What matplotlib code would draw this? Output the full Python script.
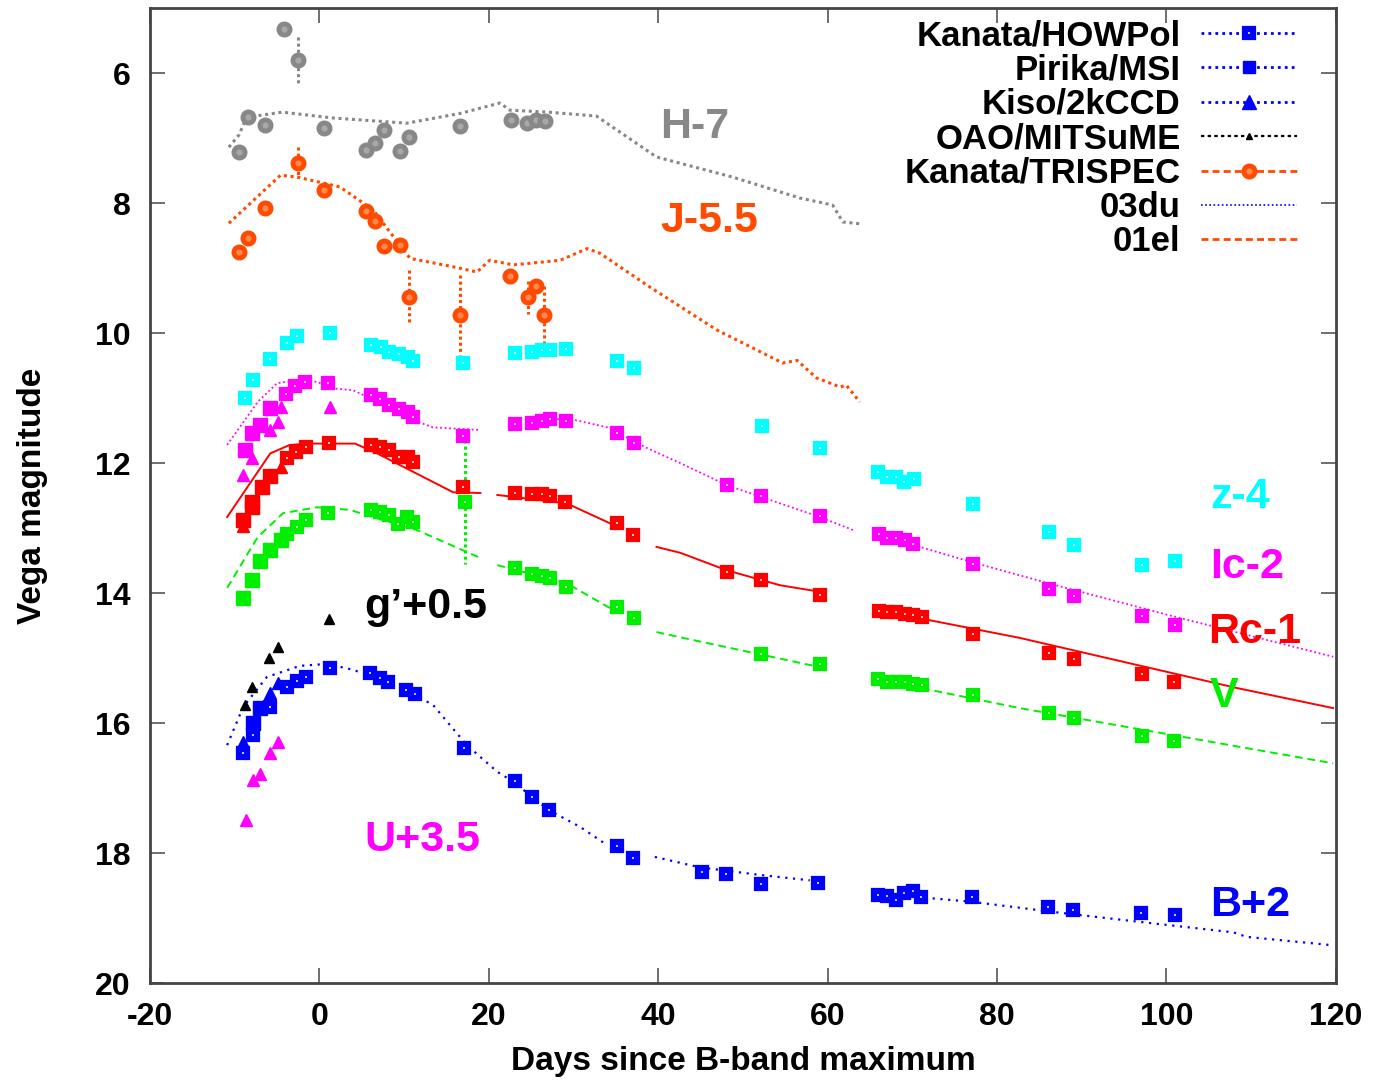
import numpy as np
import matplotlib.pyplot as plt
from matplotlib.lines import Line2D

plt.rcParams['font.family'] = ['Liberation Sans', 'DejaVu Sans']
plt.rcParams['font.weight'] = 'bold'
plt.rcParams['axes.unicode_minus'] = False

# colours per band
c_h = '#888888'
c_j = '#FF4A00'
c_z = '#00FFFF'
c_i = '#FF00FF'
c_r = '#FF0000'
c_v = '#00EE00'
c_b = '#0000FF'
c_g = '#000000'
nan = np.nan

# ---- Kanata/TRISPEC (H-7, J-5.5) ----
h_day = [-9.5, -8.4, -6.4, -4.2, -2.5, 0.5, 5.5, 6.6, 7.6, 9.5, 10.6, 16.6, 22.6, 24.5, 25.6, 26.6]
h_mag = [7.22, 6.68, 6.80, 5.32, 5.80, 6.85, 7.18, 7.08, 6.88, 7.20, 6.98, 6.82, 6.72, 6.77, 6.72, 6.74]
h_err = [0.05, 0.05, 0.03, 0.03, 0.35, 0.03, 0.03, 0.05, 0.03, 0.05, 0.08, 0.03, 0.05, 0.03, 0.03, 0.03]

j_day = [-9.5, -8.4, -6.4, -2.5, 0.5, 5.5, 6.6, 7.6, 9.5, 10.6, 16.6, 22.5, 24.6, 25.6, 26.5]
j_mag = [8.75, 8.54, 8.08, 7.38, 7.80, 8.12, 8.28, 8.66, 8.65, 9.45, 9.72, 9.12, 9.45, 9.28, 9.72]
j_err = [0.03, 0.03, 0.10, 0.24, 0.03, 0.03, 0.03, 0.03, 0.03, 0.42, 0.62, 0.03, 0.25, 0.05, 0.45]

# ---- Kanata/HOWPol ----
z_how_day = [-8.8, -7.8, -5.8, -3.8, -2.6, 1.2, 6.1, 7.3, 8.2, 9.4, 10.5, 11.1, 16.9, 23.1, 25.1, 26.3,
             27.2, 29.1, 35.1, 37.1, 52.2, 59.1, 66.0, 67.0, 68.1, 69.0, 70.2, 77.2, 86.1, 89.1, 97.1, 101.0]
z_how_mag = [11.00, 10.72, 10.40, 10.15, 10.05, 10.00, 10.18, 10.22, 10.29, 10.32, 10.37, 10.43, 10.46,
             10.31, 10.29, 10.26, 10.26, 10.25, 10.43, 10.54, 11.43, 11.77, 12.14, 12.22, 12.22, 12.29,
             12.25, 12.63, 13.06, 13.26, 13.57, 13.51]

i_how_day = [-3.9, -2.9, -1.7, 1.0, 6.1, 7.2, 8.2, 9.4, 10.4, 11.1, 16.9, 23.1, 25.1, 26.3, 27.2, 29.1,
             35.1, 37.1, 48.1, 52.1, 59.1, 66.1, 67.0, 68.1, 69.1, 70.1, 77.2, 86.1, 89.1, 97.1, 101.0]
i_how_mag = [10.94, 10.82, 10.75, 10.77, 10.95, 11.02, 11.10, 11.17, 11.22, 11.29, 11.58, 11.40, 11.38,
             11.35, 11.32, 11.35, 11.54, 11.69, 12.34, 12.51, 12.82, 13.09, 13.15, 13.15, 13.18, 13.25,
             13.55, 13.94, 14.05, 14.35, 14.49]

r_how_day = [-3.8, -2.8, -1.6, 1.1, 6.1, 7.2, 8.2, 9.4, 10.5, 11.1, 17.0, 23.1, 25.1, 26.3, 27.2, 29.0,
             35.1, 37.0, 48.1, 52.1, 59.1, 66.1, 67.0, 68.1, 69.1, 70.1, 71.1, 77.2, 86.1, 89.1, 97.1, 100.9]
r_how_mag = [11.92, 11.83, 11.75, 11.69, 11.72, 11.75, 11.80, 11.90, 11.90, 11.98, 12.37, 12.46, 12.47,
             12.47, 12.51, 12.60, 12.92, 13.11, 13.68, 13.80, 14.03, 14.28, 14.29, 14.29, 14.32, 14.34,
             14.37, 14.63, 14.92, 15.02, 15.25, 15.37]

v_how_day = [-3.8, -2.6, -1.6, 1.0, 6.1, 7.2, 8.2, 9.3, 10.3, 11.1, 17.2, 23.1, 25.1, 26.3, 27.2, 29.1,
             35.1, 37.1, 52.1, 59.1, 65.9, 67.0, 68.1, 69.1, 70.1, 71.1, 77.2, 86.1, 89.1, 97.1, 100.9]
v_how_mag = [13.09, 12.98, 12.88, 12.77, 12.72, 12.75, 12.80, 12.94, 12.83, 12.90, 12.60, 13.62, 13.71,
             13.74, 13.77, 13.91, 14.22, 14.38, 14.94, 15.09, 15.32, 15.37, 15.37, 15.37, 15.40, 15.42,
             15.57, 15.85, 15.92, 16.20, 16.28]
v_how_err = [0.96 if d == 17.2 else 0.0 for d in v_how_day]

b_how_day = [-9.0, -7.8, -5.8, -3.8, -2.6, -1.6, 1.2, 6.0, 7.2, 8.1, 10.2, 11.3, 17.1, 23.1, 25.1, 27.1,
             35.1, 37.0, 45.2, 48.0, 52.1, 58.9, 65.9, 67.0, 68.1, 69.0, 70.1, 71.0, 77.0, 86.0, 89.0, 97.0, 101.0]
b_how_mag = [16.46, 16.18, 15.75, 15.45, 15.35, 15.29, 15.15, 15.23, 15.31, 15.37, 15.49, 15.55, 16.38,
             16.89, 17.14, 17.34, 17.89, 18.08, 18.29, 18.32, 18.48, 18.46, 18.65, 18.66, 18.72, 18.62,
             18.58, 18.68, 18.68, 18.83, 18.88, 18.92, 18.95]
b_how_err = [0.08 if d in (45.2, 48.0) else 0.0 for d in b_how_day]

# ---- Pirika/MSI ----
i_pir_day = [-8.8, -8.0, -7.0, -5.8]
i_pir_mag = [11.80, 11.54, 11.42, 11.15]
r_pir_day = [-9.0, -8.0, -8.0, -6.8, -5.8]
r_pir_mag = [12.88, 12.60, 12.68, 12.37, 12.20]
v_pir_day = [-9.0, -8.0, -7.0, -5.8, -4.6]
v_pir_mag = [14.08, 13.80, 13.50, 13.34, 13.18]
b_pir_day = [-7.8, -7.0]
b_pir_mag = [16.00, 15.77]

# ---- Kiso/2kCCD ----
i_kiso_day = [-9.0, -8.0, -5.8, -4.9, -4.6, 1.25]
i_kiso_mag = [12.18, 11.92, 11.49, 11.37, 11.14, 11.14]
r_kiso_day = [-9.0, -4.6]
r_kiso_mag = [12.97, 12.06]
b_kiso_day = [-9.0, -5.8, -4.9]
b_kiso_mag = [16.29, 15.54, 15.38]
u_kiso_day = [-8.7, -7.8, -7.0, -5.8, -4.9]
u_kiso_mag = [17.49, 16.88, 16.78, 16.46, 16.29]

# ---- OAO/MITSuME g' ----
g_day = [-8.8, -8.0, -5.9, -4.9, 1.1]
g_mag = [15.72, 15.45, 15.00, 14.83, 14.40]

# ---- templates: 01el (H, J) and 03du (Ic, Rc, V, B) ----
h_tpl_day = [-10.7, -9.5, -8.6, -4.4, 1.6, 10.3, 16.6, 21.3, 22.5, 27.0, 32.7, 39.8, 48.8, 56.7, 60.6, 61.8, 64.0]
h_tpl_mag = [7.14, 6.95, 6.68, 6.60, 6.69, 6.77, 6.62, 6.46, 6.57, 6.60, 6.66, 7.29, 7.60, 7.92, 8.03, 8.29, 8.32]

j_tpl_day = [-10.7, -4.6, -2.6, 2.4, 6.3, 10.7, 15.8, 18.6, 20.1, 22.9, 28.4, 31.6, 33.1, 39.0, 46.9,
             54.7, 56.4, 58.7, 61.5, 62.2, 63.8]
j_tpl_mag = [8.31, 7.57, 7.60, 7.75, 8.10, 8.85, 8.98, 9.06, 8.88, 8.95, 8.88, 8.70, 8.77, 9.29, 9.95,
             10.46, 10.42, 10.69, 10.83, 10.80, 11.06]

i_tpl_day = [-10.9, -7.3, -5.0, -2.3, -0.3, 1.6, 4.0, 5.6, 11.1, 13.4, 19.0, nan, 27.0, 29.6, 34.0,
             38.7, 42.6, 48.1, 59.1, 63.0, nan, 65.5, 70.1, 77.2, 86.1, 100.0, 119.7]
i_tpl_mag = [11.72, 11.06, 10.77, 10.72, 10.75, 10.85, 10.88, 10.98, 11.34, 11.45, 11.49, nan, 11.33,
             11.32, 11.45, 11.77, 12.00, 12.34, 12.83, 13.03, nan, 13.08, 13.26, 13.53, 13.85, 14.33, 14.98]

r_tpl_day = [-10.9, -8.2, -5.8, -3.5, -1.1, 4.2, 6.8, 10.7, 15.8, 19.0, nan, 21.0, 29.2, 34.7, nan,
             39.8, 42.6, 48.1, 54.4, 59.1, nan, 65.9, 82.7, 108.3, 119.7]
r_tpl_mag = [12.83, 12.31, 11.85, 11.72, 11.70, 11.70, 11.85, 12.11, 12.45, 12.46, nan, 12.49, 12.62,
             12.95, nan, 13.29, 13.38, 13.65, 13.88, 13.98, nan, 14.26, 14.69, 15.46, 15.77]

v_tpl_day = [-10.9, -7.3, -4.3, -0.3, 3.6, 6.3, 11.5, 19.0, nan, 21.0, 29.2, 34.7, nan, 39.8, 42.6,
             59.1, nan, 65.3, 82.7, 119.7]
v_tpl_mag = [13.92, 13.14, 12.77, 12.68, 12.72, 12.83, 13.03, 13.46, nan, 13.57, 13.85, 14.26, nan,
             14.60, 14.68, 15.14, nan, 15.31, 15.77, 16.62]

b_tpl_day = [-10.9, -9.0, -6.2, -2.3, 0.9, 3.6, 8.0, 13.4, 17.4, 21.0, 23.1, 25.1, 27.1, 30.8, 34.0, nan,
             39.6, 44.9, 52.2, 57.9, nan, 66.0, 71.7, 77.0, 87.5, 96.9, 107.9, 109.5, 119.7]
b_tpl_mag = [16.34, 15.75, 15.29, 15.12, 15.09, 15.17, 15.34, 15.72, 16.34, 16.75, 16.92, 17.14, 17.34,
             17.60, 17.88, nan, 18.06, 18.22, 18.34, 18.42, nan, 18.62, 18.69, 18.75, 18.92, 19.06,
             19.22, 19.29, 19.42]

# band labels
band_text = ['H-7', 'J-5.5', 'z-4', 'Ic-2', 'Rc-1', 'V', 'g’+0.5', 'U+3.5', 'B+2']
band_x = [44.3, 46.0, 108.7, 109.5, 110.4, 106.8, 12.5, 12.1, 109.9]
band_y = [6.83, 8.28, 12.52, 13.60, 14.60, 15.58, 14.22, 17.80, 18.80]
band_col = [c_h, c_j, c_z, c_i, c_r, c_v, c_g, c_i, c_b]

fig = plt.figure(figsize=(13.77, 10.88), dpi=100)
ax = fig.add_axes([0.109, 0.0965, 0.861, 0.896])

# templates
ax.plot(h_tpl_day, h_tpl_mag, color=c_h, lw=2.2, ls=(0, (1, 1.2)))
ax.plot(j_tpl_day, j_tpl_mag, color=c_j, lw=2.2, ls=(0, (1, 1.2)))
ax.plot(i_tpl_day, i_tpl_mag, color=c_i, lw=1.3, ls=(0, (1, 1.5)))
ax.plot(r_tpl_day, r_tpl_mag, color=c_r, lw=1.4, ls='-')
ax.plot(v_tpl_day, v_tpl_mag, color=c_v, lw=1.4, ls=(0, (4, 2.5)))
ax.plot(b_tpl_day, b_tpl_mag, color=c_b, lw=1.6, ls=(0, (1, 2.5)))

# error bars
def errbars(d, m, e, col, lw=2.2):
    d = np.asarray(d)
    m = np.asarray(m)
    e = np.asarray(e)
    ax.vlines(d, m - e, m + e, colors=col, lw=lw, linestyles=(0, (1, 1)))

errbars(h_day, h_mag, h_err, c_h)
errbars(j_day, j_mag, j_err, c_j)
errbars(v_how_day, v_how_mag, v_how_err, c_v)
errbars(b_how_day, b_how_mag, b_how_err, c_b)

# TRISPEC circles
ax.plot(h_day, h_mag, 'o', color=c_h, ms=8, mfc='#A8A8A8', mew=3.5)
ax.plot(j_day, j_mag, 'o', color=c_j, ms=8, mfc='#FF8A50', mew=3.5)

# HOWPol squares
how = dict(marker='s', ls='none', ms=6, mew=4.5, mfc='white')
for d, m, c in [(z_how_day, z_how_mag, c_z), (i_how_day, i_how_mag, c_i), (r_how_day, r_how_mag, c_r),
                (v_how_day, v_how_mag, c_v), (b_how_day, b_how_mag, c_b)]:
    ax.plot(d, m, color=c, mec=c, **how)

# Pirika filled squares
for d, m, c in [(i_pir_day, i_pir_mag, c_i), (r_pir_day, r_pir_mag, c_r), (v_pir_day, v_pir_mag, c_v),
                (b_pir_day, b_pir_mag, c_b)]:
    ax.plot(d, m, 's', color=c, ms=10)

# Kiso triangles
for d, m, c in [(i_kiso_day, i_kiso_mag, c_i), (r_kiso_day, r_kiso_mag, c_r), (b_kiso_day, b_kiso_mag, c_b),
                (u_kiso_day, u_kiso_mag, c_i)]:
    ax.plot(d, m, '^', color=c, ms=9)

# OAO g'
ax.plot(g_day, g_mag, '^', color=c_g, ms=6.5)

for t, x, y, c in zip(band_text, band_x, band_y, band_col):
    ax.text(x, y, t, color=c, fontsize=31, fontweight='bold', ha='center', va='center')

ax.set_xlim(-20, 120)
ax.set_ylim(20, 5)
ax.set_xticks(range(-20, 121, 20))
ax.set_yticks(range(6, 21, 2))
ax.tick_params(direction='in', length=11, width=1.2, top=True, right=True, labelsize=23, pad=14,
               color='#555555')
for lab in ax.get_xticklabels() + ax.get_yticklabels():
    lab.set_fontweight('bold')
for s in ax.spines.values():
    s.set_linewidth(2)
    s.set_color('#444444')

ax.set_xlabel('Days since B-band maximum', fontsize=24, fontweight='bold', labelpad=10)
ax.set_ylabel('Vega magnitude', fontsize=24, fontweight='bold', labelpad=34)

# legend
handles = [
    Line2D([], [], color=c_b, ls=(0, (1, 1.5)), lw=2, marker='s', ms=6, mew=4.5, mfc='white', mec=c_b),
    Line2D([], [], color=c_b, ls=(0, (1, 1.5)), lw=2, marker='s', ms=9),
    Line2D([], [], color=c_b, ls=(0, (1, 1.5)), lw=2, marker='^', ms=10),
    Line2D([], [], color=c_g, ls=(0, (1.5, 1.5)), lw=1.6, marker='^', ms=5),
    Line2D([], [], color=c_j, ls=(0, (2.5, 1.5)), lw=2, marker='o', ms=8, mfc='#FF8A50', mew=3.5),
    Line2D([], [], color=c_b, ls=(0, (1, 1.5)), lw=1.2),
    Line2D([], [], color=c_j, ls=(0, (2.5, 1.5)), lw=2),
]
labels = ['Kanata/HOWPol', 'Pirika/MSI', 'Kiso/2kCCD', 'OAO/MITSuME', 'Kanata/TRISPEC', '03du', '01el']
leg = ax.legend(handles, labels, loc='upper right', markerfirst=False, frameon=False,
                fontsize=25, handlelength=2.75, handletextpad=0.6, labelspacing=0.04,
                borderaxespad=0.0, bbox_to_anchor=(0.979, 1.003))
for t in leg.get_texts():
    t.set_fontweight('bold')

fig.savefig('out.png', dpi=100)
